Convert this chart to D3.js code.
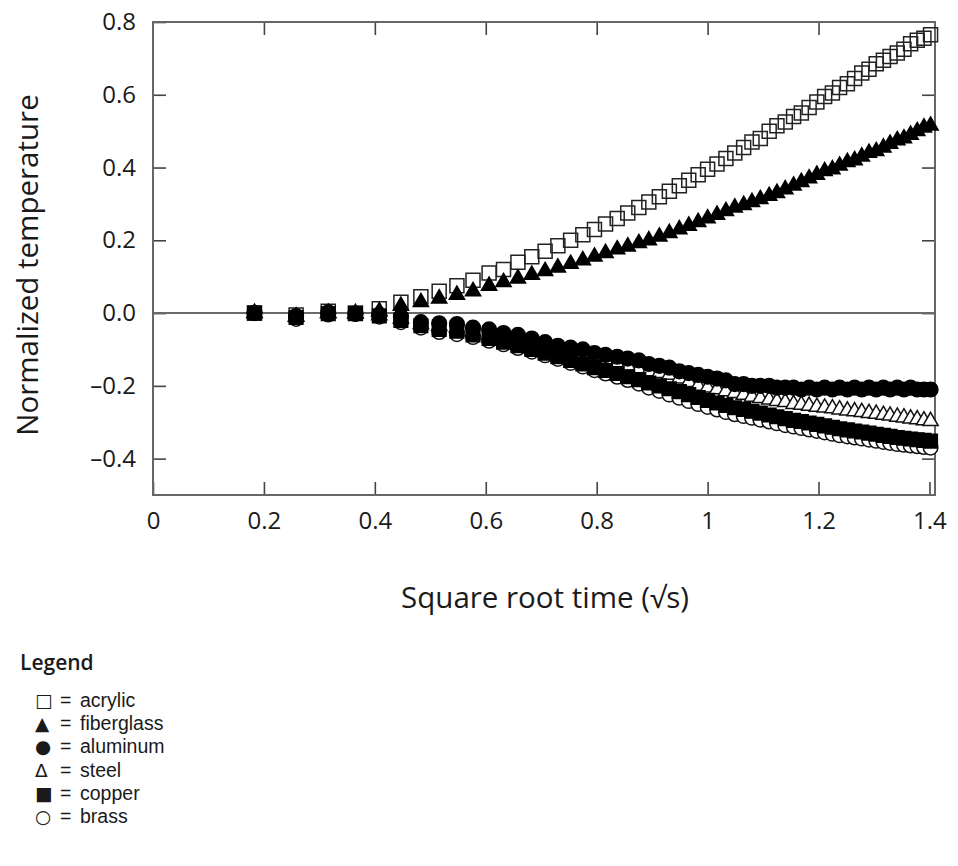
<!DOCTYPE html>
<html>
<head>
<meta charset="utf-8">
<script src="https://cdn.jsdelivr.net/npm/d3@7"></script>
<style>
  html, body { margin: 0; padding: 0; background: #fff; }
  svg { display: block; }
</style>
</head>
<body>
<svg id="chart" width="958" height="866"></svg>
<script>
// Sample times on the square-root-of-seconds axis
const sqrtTime = [0.183, 0.258, 0.316, 0.365, 0.408, 0.447, 0.483, 0.516, 0.548, 0.577,
  0.606, 0.632, 0.658, 0.683, 0.707, 0.730, 0.753, 0.775, 0.796, 0.816,
  0.837, 0.856, 0.876, 0.894, 0.913, 0.931, 0.949, 0.966, 0.983, 1.000,
  1.017, 1.033, 1.049, 1.065, 1.080, 1.095, 1.111, 1.125, 1.140, 1.155,
  1.169, 1.183, 1.197, 1.211, 1.225, 1.238, 1.252, 1.265, 1.278, 1.291,
  1.304, 1.317, 1.329, 1.342, 1.354, 1.366, 1.378, 1.390, 1.402];

// Normalized temperature for each material
const acrylic = [0.000, -0.005, 0.005, 0.000, 0.012, 0.030, 0.045, 0.060, 0.075, 0.090,
  0.110, 0.120, 0.140, 0.155, 0.170, 0.185, 0.200, 0.215, 0.230, 0.245,
  0.260, 0.275, 0.290, 0.305, 0.320, 0.335, 0.350, 0.365, 0.380, 0.395,
  0.410, 0.425, 0.440, 0.455, 0.470, 0.480, 0.500, 0.515, 0.525, 0.540,
  0.550, 0.565, 0.580, 0.595, 0.605, 0.620, 0.630, 0.645, 0.660, 0.670,
  0.685, 0.695, 0.705, 0.715, 0.725, 0.740, 0.750, 0.755, 0.765];
const fiberglass = [0.000, -0.010, 0.000, 0.000, 0.005, 0.020, 0.030, 0.040, 0.050, 0.060,
  0.075, 0.085, 0.095, 0.105, 0.115, 0.125, 0.135, 0.145, 0.155, 0.165,
  0.175, 0.183, 0.192, 0.200, 0.210, 0.220, 0.230, 0.240, 0.250, 0.260,
  0.270, 0.280, 0.290, 0.297, 0.305, 0.313, 0.322, 0.330, 0.340, 0.350,
  0.360, 0.370, 0.380, 0.390, 0.395, 0.405, 0.415, 0.420, 0.430, 0.440,
  0.445, 0.455, 0.465, 0.475, 0.480, 0.490, 0.500, 0.510, 0.515];
const aluminum = [0.000, -0.008, 0.002, -0.002, -0.004, -0.010, -0.025, -0.028, -0.030, -0.040,
  -0.045, -0.055, -0.060, -0.070, -0.080, -0.090, -0.095, -0.100, -0.110, -0.115,
  -0.120, -0.125, -0.130, -0.140, -0.145, -0.150, -0.160, -0.165, -0.170, -0.175,
  -0.180, -0.185, -0.195, -0.195, -0.200, -0.200, -0.200, -0.205, -0.205, -0.205,
  -0.210, -0.205, -0.210, -0.205, -0.210, -0.205, -0.210, -0.205, -0.210, -0.205,
  -0.210, -0.205, -0.210, -0.205, -0.210, -0.205, -0.210, -0.210, -0.210];
const steel = [0.000, -0.010, 0.000, -0.002, -0.006, -0.015, -0.030, -0.035, -0.040, -0.050,
  -0.060, -0.065, -0.075, -0.085, -0.090, -0.100, -0.105, -0.115, -0.125, -0.130,
  -0.140, -0.145, -0.155, -0.160, -0.165, -0.170, -0.180, -0.190, -0.200, -0.205,
  -0.210, -0.215, -0.220, -0.225, -0.230, -0.234, -0.238, -0.242, -0.245, -0.250,
  -0.252, -0.255, -0.258, -0.260, -0.262, -0.265, -0.268, -0.270, -0.272, -0.275,
  -0.277, -0.280, -0.282, -0.285, -0.287, -0.290, -0.292, -0.295, -0.297];
const copper = [0.000, -0.012, -0.002, -0.002, -0.008, -0.020, -0.035, -0.045, -0.050, -0.060,
  -0.070, -0.080, -0.090, -0.100, -0.110, -0.120, -0.130, -0.140, -0.150, -0.158,
  -0.166, -0.175, -0.183, -0.192, -0.200, -0.208, -0.216, -0.224, -0.232, -0.240,
  -0.247, -0.254, -0.260, -0.265, -0.270, -0.275, -0.280, -0.285, -0.290, -0.295,
  -0.298, -0.302, -0.306, -0.310, -0.314, -0.318, -0.321, -0.324, -0.327, -0.330,
  -0.333, -0.336, -0.339, -0.342, -0.344, -0.346, -0.348, -0.350, -0.352];
const brass = [0.000, -0.016, -0.004, -0.002, -0.010, -0.025, -0.040, -0.052, -0.058, -0.066,
  -0.076, -0.086, -0.096, -0.106, -0.116, -0.126, -0.137, -0.147, -0.157, -0.166,
  -0.175, -0.184, -0.194, -0.205, -0.214, -0.224, -0.233, -0.242, -0.250, -0.258,
  -0.265, -0.272, -0.278, -0.283, -0.288, -0.293, -0.298, -0.303, -0.308, -0.312,
  -0.316, -0.320, -0.324, -0.328, -0.332, -0.336, -0.339, -0.342, -0.345, -0.348,
  -0.351, -0.354, -0.357, -0.360, -0.362, -0.364, -0.366, -0.368, -0.370];

// Axis ticks
const xTicks = [0, 0.2, 0.4, 0.6, 0.8, 1.0, 1.2, 1.4];
const xTickLabels = ["0", "0.2", "0.4", "0.6", "0.8", "1", "1.2", "1.4"];
const yTicks = [0.8, 0.6, 0.4, 0.2, 0.0, -0.2, -0.4];
const yTickLabels = ["0.8", "0.6", "0.4", "0.2", "0.0", "\u20130.2", "\u20130.4"];

// Legend entries
const legendSymbols = ["\u25A1", "\u25B2", "\u25CF", "\u0394", "\u25A0", "\u25CB"];
const legendNames = ["acrylic", "fiberglass", "aluminum", "steel", "copper", "brass"];

const mainFont = "'Open Sans', 'Noto Sans', sans-serif";
const legendFont = "'Liberation Sans', Arial, sans-serif";
const symbolFont = "'DejaVu Sans', sans-serif";
const ink = "#1a1a1a";

const svg = d3.select("#chart");
const plot = { left: 153, right: 935, top: 22, bottom: 495 };

const x = d3.scaleLinear().domain([0, 1.41]).range([plot.left, plot.right]);
const y = d3.scaleLinear().domain([-0.5, 0.8]).range([plot.bottom, plot.top]);

const tickLen = 13;
const tickFont = 24;

// Inward ticks on all four sides
const gx = svg.append("g").attr("transform", `translate(0,${plot.bottom})`)
  .call(d3.axisBottom(x).tickValues(xTicks)
    .tickFormat((d, i) => xTickLabels[i]).tickSize(-tickLen).tickPadding(17));
const gxt = svg.append("g").attr("transform", `translate(0,${plot.top})`)
  .call(d3.axisTop(x).tickValues(xTicks.slice(1, -1)).tickFormat("").tickSize(-tickLen));
const gy = svg.append("g").attr("transform", `translate(${plot.left},0)`)
  .call(d3.axisLeft(y).tickValues(yTicks)
    .tickFormat((d, i) => yTickLabels[i]).tickSize(-tickLen).tickPadding(17));
const gyr = svg.append("g").attr("transform", `translate(${plot.right},0)`)
  .call(d3.axisRight(y).tickValues(yTicks.slice(1)).tickFormat("").tickSize(-tickLen));

[gx, gxt, gy, gyr].forEach(g => {
  g.select(".domain").remove();
  g.selectAll(".tick line").attr("stroke", "#444").attr("stroke-width", 1.6);
  g.selectAll(".tick text")
    .style("font-family", mainFont).style("font-size", tickFont + "px")
    .attr("fill", ink);
});
gx.selectAll(".tick text").attr("dy", "0.71em");

// Zero reference line
svg.append("line")
  .attr("x1", plot.left).attr("x2", plot.right)
  .attr("y1", y(0)).attr("y2", y(0))
  .attr("stroke", "#6a6a6a").attr("stroke-width", 2);

// Plot frame
svg.append("rect")
  .attr("x", plot.left).attr("y", plot.top)
  .attr("width", plot.right - plot.left).attr("height", plot.bottom - plot.top)
  .attr("fill", "none").attr("stroke", "#666").attr("stroke-width", 2);

// Marker series, drawn back to front
const series = [
  { values: acrylic, type: d3.symbolSquare, size: 196, fill: "none", stroke: "#222" },
  { values: fiberglass, type: d3.symbolTriangle, size: 100, fill: "#000", stroke: "#000" },
  { values: brass, type: d3.symbolCircle, size: 165, fill: "#fff", stroke: "#111" },
  { values: steel, type: d3.symbolTriangle, size: 100, fill: "#fff", stroke: "#111" },
  { values: aluminum, type: d3.symbolCircle, size: 170, fill: "#000", stroke: "#000" },
  { values: copper, type: d3.symbolSquare, size: 185, fill: "#000", stroke: "#000" }
];

series.forEach(s => {
  const sym = d3.symbol().type(s.type).size(s.size);
  svg.append("g").selectAll("path")
    .data(s.values.map((v, i) => [sqrtTime[i], v]))
    .join("path")
    .attr("transform", d => `translate(${x(d[0])},${y(d[1])})`)
    .attr("d", sym)
    .attr("fill", s.fill)
    .attr("stroke", s.stroke)
    .attr("stroke-width", 1.5);
});

// Axis titles
svg.append("text")
  .attr("x", 545).attr("y", 608)
  .attr("text-anchor", "middle").attr("fill", ink)
  .style("font-family", mainFont).style("font-size", "29.5px")
  .text("Square root time (\u221As)");

svg.append("text")
  .attr("transform", "translate(38,265) rotate(-90)")
  .attr("text-anchor", "middle").attr("fill", ink)
  .style("font-family", mainFont).style("font-size", "29.5px")
  .text("Normalized temperature");

// Legend
const legend = svg.append("g").attr("transform", "translate(20,670)");
legend.append("text").attr("x", 0).attr("y", 0).attr("fill", ink)
  .style("font-family", mainFont).style("font-size", "21px").style("font-weight", 600)
  .text("Legend");

const rows = legend.selectAll("g.row")
  .data(legendNames)
  .join("g")
  .attr("class", "row")
  .attr("transform", (d, i) => `translate(0,${37 + i * 23.2})`);
rows.append("text").attr("x", 15).attr("y", 0).attr("fill", ink)
  .style("font-family", symbolFont).style("font-size", "18.5px")
  .text((d, i) => legendSymbols[i]);
rows.append("text").attr("x", 40).attr("y", 0).attr("fill", ink)
  .style("font-family", legendFont).style("font-size", "19.5px")
  .text("=");
rows.append("text").attr("x", 60).attr("y", 0).attr("fill", ink)
  .style("font-family", legendFont).style("font-size", "19.5px")
  .text(d => d);
</script>
</body>
</html>
